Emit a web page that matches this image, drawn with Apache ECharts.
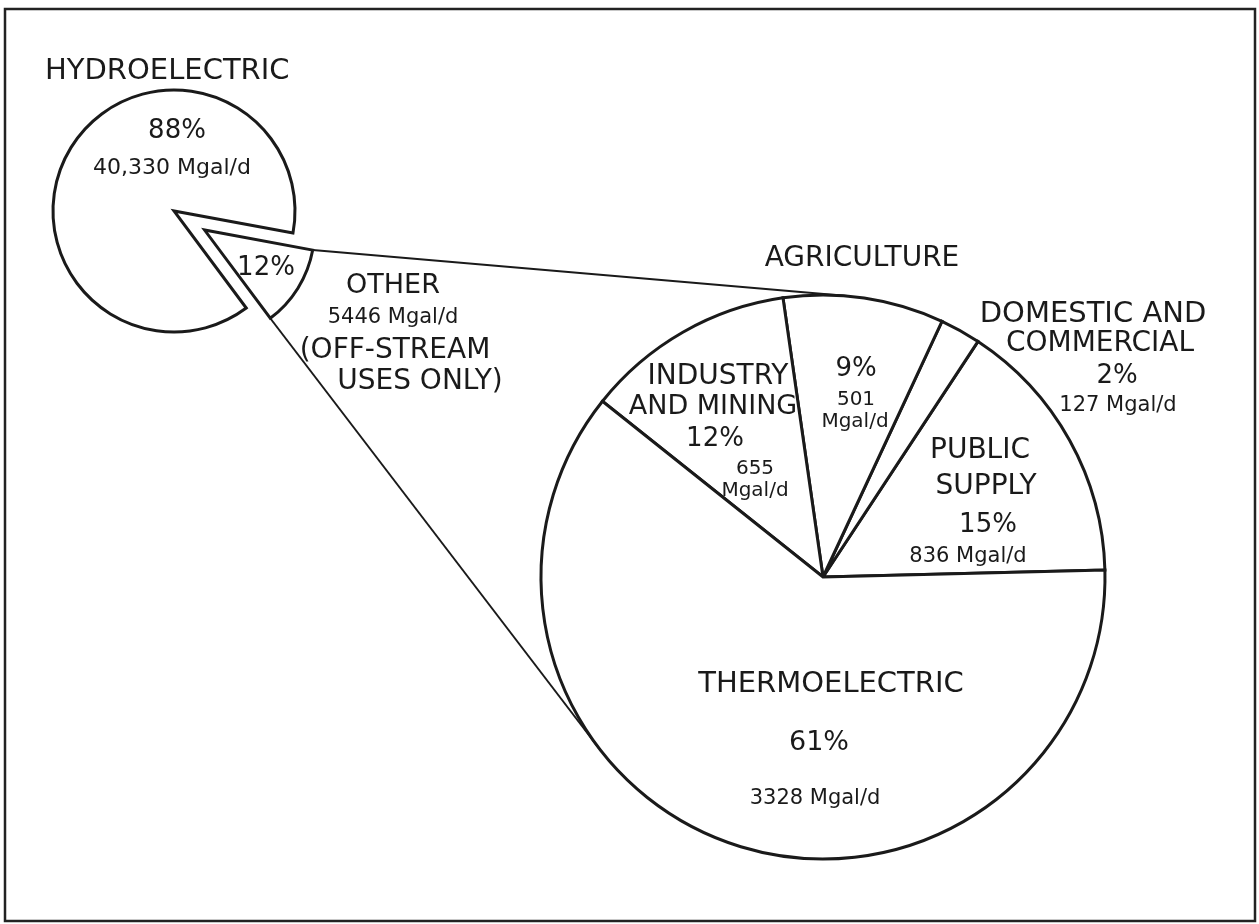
<!DOCTYPE html>
<html><head><meta charset="utf-8">
<script src="https://cdn.jsdelivr.net/npm/echarts@6/dist/echarts.min.js"></script>
<style>html,body{margin:0;padding:0;background:#fff}#chart{width:1259px;height:924px}</style>
</head><body><div id="chart"></div>
<script>
// ---------------- DATA ----------------
const totalCategories = ['HYDROELECTRIC', 'OTHER'];
const totalValues = [40330, 5446];
const otherCategories = ['PUBLIC SUPPLY', 'DOMESTIC AND COMMERCIAL', 'AGRICULTURE', 'INDUSTRY AND MINING', 'THERMOELECTRIC'];
const otherValues = [836, 127, 501, 655, 3328];
const unitLabel = 'Mgal/d';
const otherNote = ['(OFF-STREAM', 'USES ONLY)'];

// ---------------- HELPERS ----------------
const sum = a => a.reduce((s, v) => s + v, 0);
const pct = (v, arr) => Math.round(v / sum(arr) * 100) + '%';
const fmt = v => v >= 10000 ? v.toLocaleString('en-US') : String(v);

// ---------------- LAYOUT ----------------
const INK = '#1a1a1a';
const FONT = '"DejaVu Sans", "Liberation Sans", sans-serif';
const bigC = [823, 577], bigR = 282, bigStart = 1.4;
const smallC = [174, 211], smallR = 121, otherR = 110, explode = 36, smallStart = -10.5;

const otherSpan = totalValues[1] / sum(totalValues) * 360;
const a0 = smallStart * Math.PI / 180;
const a1 = (smallStart - otherSpan) * Math.PI / 180;
const am = (a0 + a1) / 2;
const tip = [smallC[0] + explode * Math.cos(am), smallC[1] - explode * Math.sin(am)];
const pUp = [tip[0] + otherR * Math.cos(a0), tip[1] - otherR * Math.sin(a0)];
const pLo = [tip[0] + otherR * Math.cos(a1), tip[1] - otherR * Math.sin(a1)];
function tangents(p) {
  const dx = p[0] - bigC[0], dy = p[1] - bigC[1];
  const d = Math.hypot(dx, dy), th = Math.atan2(dy, dx), al = Math.acos(bigR / d);
  return [th + al, th - al].map(t => [bigC[0] + bigR * Math.cos(t), bigC[1] + bigR * Math.sin(t)]);
}
const tUp = tangents(pUp).sort((a, b) => a[1] - b[1])[0];
const tLo = tangents(pLo).sort((a, b) => b[1] - a[1])[0];

// label positions (text derived from data)
const labels = [
  { t: totalCategories[0], x: 45, y: 71, s: 29, align: 'left' },
  { t: pct(totalValues[0], totalValues), x: 177, y: 131, s: 26 },
  { t: fmt(totalValues[0]) + ' ' + unitLabel, x: 172, y: 168, s: 22 },
  { t: pct(totalValues[1], totalValues), x: 266, y: 268, s: 26 },
  { t: totalCategories[1], x: 393, y: 286, s: 27 },
  { t: fmt(totalValues[1]) + ' ' + unitLabel, x: 393, y: 318, s: 21 },
  { t: otherNote[0], x: 395, y: 351, s: 28 },
  { t: otherNote[1], x: 420, y: 382, s: 28 },

  { t: otherCategories[2], x: 862, y: 259, s: 28 },
  { t: pct(otherValues[2], otherValues), x: 856, y: 369, s: 26 },
  { t: fmt(otherValues[2]), x: 856, y: 400, s: 20 },
  { t: unitLabel, x: 855, y: 422, s: 20 },

  { t: 'INDUSTRY', x: 718, y: 377, s: 28 },
  { t: 'AND MINING', x: 713, y: 407, s: 27 },
  { t: pct(otherValues[3], otherValues), x: 715, y: 439, s: 26 },
  { t: fmt(otherValues[3]), x: 755, y: 469, s: 20 },
  { t: unitLabel, x: 755, y: 491, s: 20 },

  { t: 'DOMESTIC AND', x: 1093, y: 314, s: 29 },
  { t: 'COMMERCIAL', x: 1100, y: 344, s: 28 },
  { t: pct(otherValues[1], otherValues), x: 1117, y: 376, s: 26 },
  { t: fmt(otherValues[1]) + ' ' + unitLabel, x: 1118, y: 406, s: 21 },

  { t: 'PUBLIC', x: 980, y: 451, s: 28 },
  { t: 'SUPPLY', x: 986, y: 487, s: 28 },
  { t: pct(otherValues[0], otherValues), x: 988, y: 525, s: 26 },
  { t: fmt(otherValues[0]) + ' ' + unitLabel, x: 968, y: 557, s: 21 },

  { t: otherCategories[4], x: 831, y: 684, s: 29 },
  { t: pct(otherValues[4], otherValues), x: 819, y: 743, s: 27 },
  { t: fmt(otherValues[4]) + ' ' + unitLabel, x: 815, y: 799, s: 21 }
];

const sliceStyle = { color: '#fff', borderColor: INK, borderWidth: 3, borderJoin: 'miter' };
const hidden = { color: 'rgba(0,0,0,0)', borderWidth: 0 };

const chart = echarts.init(document.getElementById('chart'), null, { renderer: 'canvas' });
chart.setOption({
  animation: false,
  backgroundColor: '#fff',
  series: [
    {
      type: 'pie', center: bigC, radius: bigR, startAngle: bigStart, clockwise: false,
      silent: true, label: { show: false }, labelLine: { show: false },
      emphasis: { disabled: true }, itemStyle: sliceStyle, z: 3,
      data: otherCategories.map((n, i) => ({ name: n, value: otherValues[i] }))
    },
    {
      type: 'pie', center: smallC, radius: smallR, startAngle: smallStart, clockwise: true,
      silent: true, label: { show: false }, labelLine: { show: false },
      emphasis: { disabled: true }, itemStyle: sliceStyle, z: 3,
      data: [
        { name: totalCategories[1], value: totalValues[1], itemStyle: hidden },
        { name: totalCategories[0], value: totalValues[0] }
      ]
    },
    {
      type: 'pie', center: smallC, radius: otherR, startAngle: smallStart, clockwise: true,
      silent: true, label: { show: false }, labelLine: { show: false },
      emphasis: { disabled: true }, itemStyle: sliceStyle, z: 3,
      selectedMode: 'single', selectedOffset: explode,
      select: { itemStyle: sliceStyle },
      data: [
        { name: totalCategories[1], value: totalValues[1], selected: true },
        { name: totalCategories[0], value: totalValues[0], itemStyle: hidden }
      ]
    }
  ],
  graphic: [
    { type: 'rect', z: 0, shape: { x: 5, y: 9, width: 1250, height: 912 },
      style: { fill: 'none', stroke: '#222', lineWidth: 2.5 } },
    { type: 'line', z: 1, shape: { x1: pUp[0], y1: pUp[1], x2: tUp[0], y2: tUp[1] },
      style: { stroke: INK, lineWidth: 2 } },
    { type: 'line', z: 1, shape: { x1: pLo[0], y1: pLo[1], x2: tLo[0], y2: tLo[1] },
      style: { stroke: INK, lineWidth: 2 } }
  ].concat(labels.map(l => ({
    type: 'text', z: 100, x: l.x, y: l.y,
    style: { text: l.t, fill: INK, fontFamily: FONT, fontSize: l.s,
      align: l.align || 'center', verticalAlign: 'middle' }
  })))
});
</script></body></html>
